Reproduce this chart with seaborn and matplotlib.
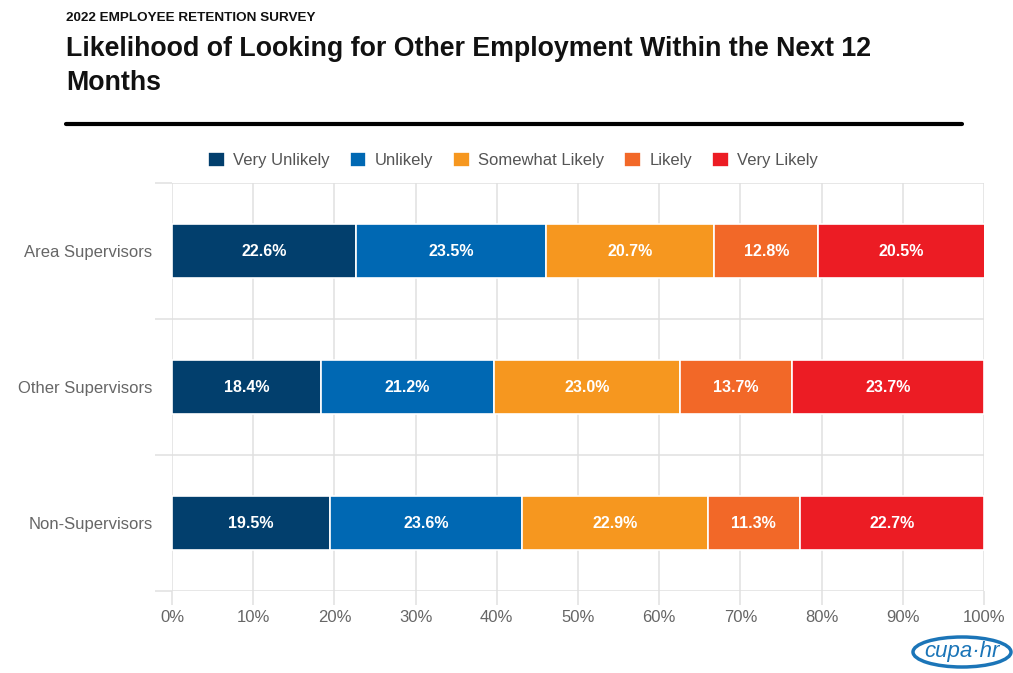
import matplotlib
matplotlib.use("Agg")
import matplotlib.pyplot as plt
import seaborn as sns
import pandas as pd
import numpy as np
from matplotlib.patches import Ellipse

categories = ["Area Supervisors", "Other Supervisors", "Non-Supervisors"]
responses = ["Very Unlikely", "Unlikely", "Somewhat Likely", "Likely", "Very Likely"]
very_unlikely = [22.6, 18.4, 19.5]
unlikely = [23.5, 21.2, 23.6]
somewhat_likely = [20.7, 23.0, 22.9]
likely = [12.8, 13.7, 11.3]
very_likely = [20.5, 23.7, 22.7]
colors = ["#023f6d", "#0068b3", "#f6971f", "#f26828", "#ec1c24"]
x_ticks = [0, 10, 20, 30, 40, 50, 60, 70, 80, 90, 100]

series = [very_unlikely, unlikely, somewhat_likely, likely, very_likely]

sns.set_theme(style="white")
plt.rcParams["font.family"] = ["Liberation Sans", "DejaVu Sans"]

fig = plt.figure(figsize=(10.13, 6.73), dpi=100)
ax = fig.add_axes([172 / 1013, 1 - 591 / 673, (984 - 172) / 1013, (591 - 183) / 673])

left = np.zeros(len(categories))
for name, vals, col in zip(responses, series, colors):
    df = pd.DataFrame({"group": categories, "value": vals})
    sns.barplot(data=df, x="value", y="group", order=categories, orient="h",
                color=col, saturation=1, width=0.4, left=left.copy(), edgecolor="white",
                linewidth=1.2, ax=ax, label=name, zorder=3)
    cont = ax.containers[-1]
    ax.bar_label(cont, labels=[f"{v:.1f}%" for v in vals], label_type="center",
                 color="white", fontweight="bold", fontsize=11.5, zorder=4)
    left += np.array(vals)

ax.set_xlim(0, 100)
ax.set_ylim(2.5, -0.5)
ax.set_xticks(x_ticks)
ax.set_xticklabels([f"{t}%" for t in x_ticks])
ax.set_yticks(range(len(categories)))
ax.set_yticklabels(categories)
ax.set_yticks([-0.5, 0.5, 1.5, 2.5], minor=True)
ax.set_xlabel("")
ax.set_ylabel("")
for s in ax.spines.values():
    s.set_visible(False)
ax.grid(False)
ax.grid(True, axis="x", which="major", color="#e0e0e0", linewidth=1.1, zorder=0)
ax.grid(True, axis="y", which="minor", color="#e0e0e0", linewidth=1.1, zorder=0)
ax.tick_params(axis="x", which="major", bottom=True, length=10, color="#e0e0e0", width=1.1,
               labelsize=12, labelcolor="#666666", pad=4)
ax.tick_params(axis="y", which="major", left=False, length=0, labelsize=12,
               labelcolor="#666666", pad=14)
ax.tick_params(axis="y", which="minor", left=True, length=12, color="#e0e0e0", width=1.1)

handles, labels = ax.get_legend_handles_labels()
leg = fig.legend(handles, labels, loc="center", bbox_to_anchor=(513 / 1013, 1 - 160 / 673),
                 ncol=5, frameon=False, fontsize=12, handlelength=1.0, handleheight=1.0,
                 handletextpad=0.5, columnspacing=1.2, labelcolor="#555555")
if ax.get_legend() is not None:
    ax.get_legend().remove()

fig.text(66 / 1013, 1 - 18 / 673, "2022 EMPLOYEE RETENTION SURVEY", fontsize=9.7,
         fontweight="bold", color="#111111", va="center", ha="left")
fig.text(66 / 1013, 1 - 66 / 673, "Likelihood of Looking for Other Employment Within the Next 12\nMonths",
         fontsize=19.3, fontweight="bold", color="#111111", va="center", ha="left",
         linespacing=1.4)
fig.add_artist(plt.Line2D([66 / 1013, 962 / 1013], [1 - 124 / 673, 1 - 124 / 673],
                          color="black", linewidth=3, transform=fig.transFigure))

# logo
fig.add_artist(Ellipse((962 / 1013, 1 - 652 / 673), 98 / 1013, 30 / 673,
                       transform=fig.transFigure, fill=False, edgecolor="#1b75b8",
                       linewidth=2.5))
fig.text(962 / 1013, 1 - 652 / 673, "cupa·hr", fontsize=16, color="#1b75b8",
         ha="center", va="center", fontstyle="italic")

fig.savefig("out.png", dpi=100, facecolor="white")
